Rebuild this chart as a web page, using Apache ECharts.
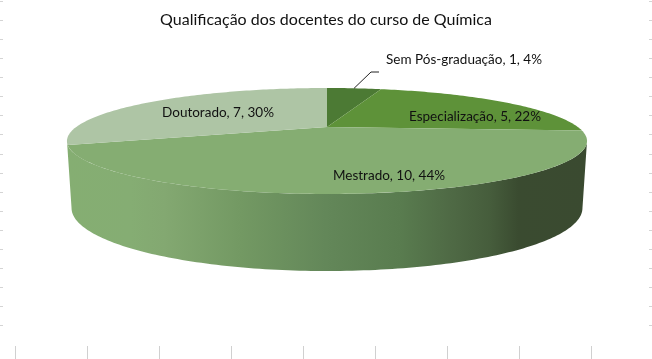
<!DOCTYPE html>
<html>
<head>
<meta charset="utf-8">
<style>
  html, body { margin: 0; padding: 0; background: #fff; }
  #chart { width: 652px; height: 359px; }
</style>
<script src="https://cdn.jsdelivr.net/npm/echarts@6/dist/echarts.min.js"></script>
</head>
<body>
<div id="chart"></div>
<script>
const categories = ['Sem Pós-graduação', 'Especialização', 'Mestrado', 'Doutorado']
const docentes = [1, 5, 10, 7]
const percentLabels = ['4%', '22%', '44%', '30%']

const sliceColors = ['#4c7a34', '#5e9239', '#85ad72', '#aec5a5']
const labelPos = [[464, 60], [475, 116.5], [389, 176], [218, 113]]

// perspective disc: top face and the lower rim share the same w
const cx = 327
const persp = 0.264
const topFace = { cy: 127, a: 250.8, b: 49.3 }
const bottomFace = { cy: 191.4, a: 246.4, b: 58.6 }

const total = docentes.reduce((s, v) => s + v, 0)
const font = '13.5px Lato, sans-serif'

function project(face, deg) {
  const t = (deg * Math.PI) / 180
  const w = 1 + persp * Math.cos(t)
  return [cx + (face.a * Math.sin(t)) / w, face.cy - (face.b * Math.cos(t)) / w]
}

function arc(face, from, to) {
  const pts = []
  const step = from < to ? 1 : -1
  for (let d = from; step > 0 ? d < to : d > to; d += step) pts.push(project(face, d))
  pts.push(project(face, to))
  return pts
}

function startAngle(i) {
  return (docentes.slice(0, i).reduce((s, v) => s + v, 0) / total) * 360
}

function renderSlice(params, api) {
  const i = api.value(0)
  const from = startAngle(i)
  const to = from + (api.value(1) / total) * 360
  const children = [
    {
      type: 'polygon',
      shape: { points: [[cx, topFace.cy], ...arc(topFace, from, to)] },
      style: { fill: sliceColors[i] },
    },
  ]
  if (i === 0) {
    const start = project(topFace, (from + to) / 2)
    children.push({
      type: 'polyline',
      shape: { points: [start, [371, 72], [379, 72]] },
      style: { stroke: '#222', lineWidth: 1, fill: null },
    })
  }
  children.push({
    type: 'text',
    z2: 10,
    style: {
      text: categories[i] + ', ' + api.value(1) + ', ' + percentLabels[i],
      x: labelPos[i][0],
      y: labelPos[i][1],
      textAlign: 'center',
      textVerticalAlign: 'middle',
      font,
      fill: '#111',
    },
  })
  return { type: 'group', children }
}

function renderWall() {
  const edge = (Math.acos(-persp) * 180) / Math.PI
  const right = edge
  const left = 360 - edge
  return {
    type: 'polygon',
    shape: { points: [...arc(topFace, right, left), ...arc(bottomFace, left, right)] },
    style: {
      fill: new echarts.graphic.LinearGradient(
        66, 0, 586, 0,
        [
          { offset: 0, color: '#85ae72' },
          { offset: 0.123, color: '#85ad73' },
          { offset: 0.19, color: '#83a871' },
          { offset: 0.335, color: '#739963' },
          { offset: 0.5, color: '#638759' },
          { offset: 0.642, color: '#597c4f' },
          { offset: 0.738, color: '#4f6a45' },
          { offset: 0.815, color: '#465d3c' },
          { offset: 0.87, color: '#3a4b30' },
          { offset: 1, color: '#3a4a30' },
        ],
        true
      ),
    },
  }
}

// leftover spreadsheet gridline stubs around the chart
const stubs = []
for (let n = 0; n < 18; n++) {
  const y = Math.round(1 + n * 19.07) + 0.5
  stubs.push({ type: 'line', shape: { x1: 0, y1: y, x2: 3, y2: y }, style: { stroke: '#d4d4d4' } })
  stubs.push({ type: 'line', shape: { x1: 649, y1: y, x2: 652, y2: y }, style: { stroke: '#d4d4d4' } })
}
for (let n = 0; n < 9; n++) {
  const x = Math.round(15 + n * 72) + 0.5
  stubs.push({ type: 'line', shape: { x1: x, y1: 346, x2: x, y2: 359 }, style: { stroke: '#d0d0d0' } })
}

const chart = echarts.init(document.getElementById('chart'))
chart.setOption({
  backgroundColor: '#fff',
  animation: false,
  title: {
    text: 'Qualificação dos docentes do curso de Química',
    left: 'center',
    top: 7,
    textStyle: { fontFamily: 'Lato, sans-serif', fontSize: 16, fontWeight: 'normal', color: '#111' },
  },
  graphic: stubs,
  series: [
    { type: 'custom', coordinateSystem: 'none', silent: true, data: [[0]], renderItem: renderWall },
    {
      type: 'custom',
      coordinateSystem: 'none',
      silent: true,
      data: docentes.map((v, i) => [i, v]),
      renderItem: renderSlice,
    },
  ],
})
window.addEventListener('resize', () => chart.resize())
</script>
</body>
</html>
